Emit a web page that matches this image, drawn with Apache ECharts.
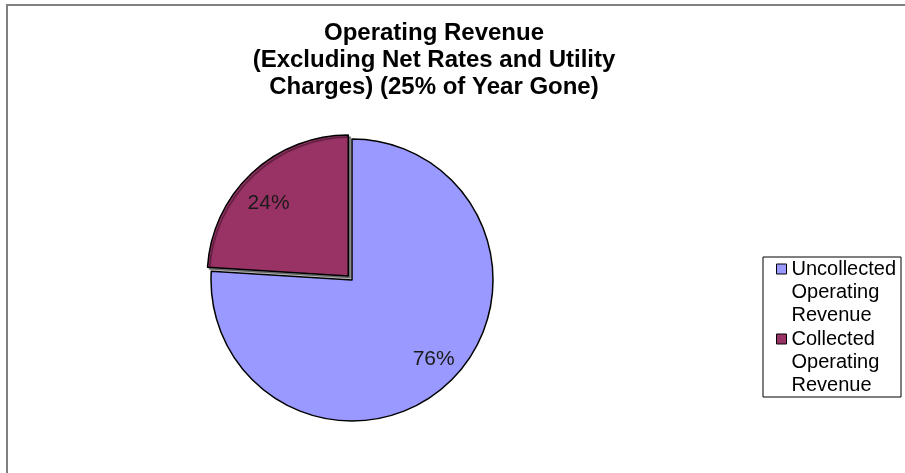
<!DOCTYPE html>
<html>
<head>
<meta charset="utf-8">
<script src="https://cdn.jsdelivr.net/npm/echarts@6/dist/echarts.min.js"></script>
<style>
  html, body { margin: 0; padding: 0; background: #fff; }
  #chart { width: 905px; height: 473px; }
</style>
</head>
<body>
<div id="chart"></div>
<script>
// Revenue split, in percent of the year's operating revenue
const categories = ['Uncollected Operating Revenue', 'Collected Operating Revenue'];
const legendLabels = ['Uncollected\nOperating\nRevenue', 'Collected\nOperating\nRevenue'];
const shares = [76, 24];
const colors = ['#9999FF', '#993366'];
const titleText = 'Operating Revenue\n(Excluding Net Rates and Utility\nCharges) (25% of Year Gone)';

const FONT = '"Liberation Sans", Arial, sans-serif';
const CX = 352, CY = 280, R = 141;

const pieData = categories.map((name, i) => ({
  name: name,
  value: shares[i],
  selected: i === 1,
  itemStyle: i === 1
    ? { color: colors[i], shadowColor: 'rgba(0,0,0,0.45)', shadowOffsetX: 2, shadowOffsetY: 2, shadowBlur: 1 }
    : { color: colors[i] }
}));

// Label ring: same slices, drawn transparent, so that "inside" labels sit near the rim
const labelData = categories.map((name, i) => ({
  name: name,
  value: shares[i],
  selected: i === 1
}));

const legendMap = {};
categories.forEach((c, i) => { legendMap[c] = legendLabels[i]; });

// small nudges of the percentage labels away from the exact mid-angle
const labelNudge = [[4, -4], [-2, 10]];

const chart = echarts.init(document.getElementById('chart'), null, { renderer: 'canvas' });
chart.setOption({
  animation: false,
  backgroundColor: '#fff',
  color: colors,
  title: {
    text: titleText,
    left: 434,
    top: 20,
    textAlign: 'center',
    padding: 0,
    textStyle: {
      fontFamily: FONT,
      fontSize: 24,
      fontWeight: 'bold',
      color: '#000',
      lineHeight: 27
    }
  },
  legend: {
    orient: 'vertical',
    left: 763,
    top: 257,
    padding: [0, 5, 0, 13],
    itemGap: 0,
    itemWidth: 10,
    itemHeight: 69,
    icon: 'path://M0 0 M0 69 M0 6.5 L10 6.5 L10 16.5 L0 16.5 Z',
    selectedMode: false,
    borderColor: '#000',
    borderWidth: 1,
    borderRadius: 0,
    data: categories,
    itemStyle: { borderColor: '#000', borderWidth: 1 },
    formatter: name => legendMap[name],
    textStyle: {
      fontFamily: FONT,
      fontSize: 20,
      color: '#000',
      lineHeight: 23
    }
  },
  graphic: [{
    type: 'rect',
    silent: true,
    z: -10,
    shape: { x: 7, y: 5, width: 1000, height: 1000 },
    style: { fill: 'none', stroke: '#808080', lineWidth: 2 }
  }],
  series: [
    {
      type: 'pie',
      center: [CX, CY],
      radius: [0, R],
      startAngle: 90,
      clockwise: true,
      selectedMode: 'multiple',
      selectedOffset: 5.5,
      avoidLabelOverlap: false,
      itemStyle: { borderColor: '#000', borderWidth: 1.5 },
      label: { show: false },
      labelLine: { show: false },
      emphasis: { disabled: true },
      data: pieData
    },
    {
      type: 'pie',
      center: [CX, CY],
      radius: [80, R],
      startAngle: 90,
      clockwise: true,
      silent: true,
      legendHoverLink: false,
      selectedMode: 'multiple',
      selectedOffset: 5.5,
      avoidLabelOverlap: false,
      itemStyle: { color: 'rgba(0,0,0,0)', borderWidth: 0 },
      label: {
        show: true,
        position: 'inside',
        fontFamily: FONT,
        fontSize: 21,
        color: '#1a1a1a',
        formatter: p => Math.round(p.percent) + '%'
      },
      labelLayout: p => ({ dx: labelNudge[p.dataIndex][0], dy: labelNudge[p.dataIndex][1] }),
      labelLine: { show: false },
      emphasis: { disabled: true },
      data: labelData
    }
  ]
});
</script>
</body>
</html>
